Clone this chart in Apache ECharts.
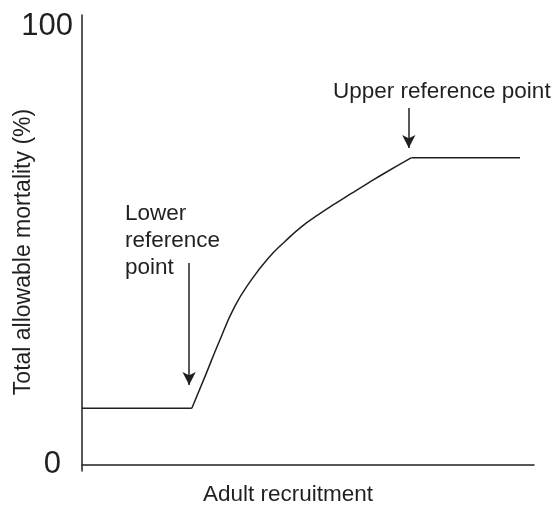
<!DOCTYPE html>
<html>
<head>
<meta charset="utf-8">
<script src="https://cdn.jsdelivr.net/npm/echarts@6/dist/echarts.min.js"></script>
<style>
html, body { margin: 0; padding: 0; background: #fff; }
#chart { width: 552px; height: 506px; }
</style>
</head>
<body>
<div id="chart"></div>
<script>
// harvest control rule: flat, rising curve, flat
const recruitment = [0, 24.3, 27.2, 30.2, 33.8, 37.5, 41.2, 44.9, 48.6, 52.3, 56.0, 59.7, 63.3, 67.0, 72.9, 96.9]
const mortality = [12.9, 12.9, 20.1, 27.7, 36.1, 42.2, 47.1, 50.9, 54.3, 57.0, 59.5, 61.9, 64.2, 66.5, 70.0, 70.0]
const yTickLabels = [0, 100]
// arrows: [x, from y, to y]
const lowerArrow = [23.7, 46.0, 18.2]
const upperArrow = [72.3, 81.3, 72.2]

const ink = '#231f20'
const font = 'Liberation Sans, Arial, Helvetica, sans-serif'
const last = recruitment.length - 1

let chart = echarts.init(document.getElementById('chart'))

const pts = (from, to) => recruitment.slice(from, to + 1).map((x, i) => [x, mortality[from + i]])

const arrowLine = a => [
  { coord: [a[0], a[1]], symbol: 'none' },
  { coord: [a[0], a[2]], symbol: 'arrow' }
]

const lineSeries = (data, smooth) => ({
  type: 'line',
  data: data,
  smooth: smooth,
  showSymbol: false,
  lineStyle: { color: ink, width: 1.5 }
})

const option = {
  animation: false,
  grid: { left: 82, right: 18, top: 15, bottom: 35 },
  xAxis: {
    type: 'value',
    min: 0,
    max: 100,
    axisLine: { show: true, lineStyle: { color: ink, width: 1.5 } },
    axisTick: { show: false },
    axisLabel: { show: false },
    splitLine: { show: false }
  },
  yAxis: {
    type: 'value',
    min: -1.4,
    max: 102.5,
    axisLine: { show: true, lineStyle: { color: ink, width: 1.5 } },
    axisTick: { show: false },
    splitLine: { show: false },
    axisLabel: {
      customValues: yTickLabels,
      margin: 9,
      color: ink,
      fontFamily: font,
      fontSize: 31,
      formatter: v => v === 0 ? '{z|0}' : String(v),
      rich: {
        z: { fontSize: 31, fontFamily: font, color: ink, padding: [0, 12, 0, 0] }
      }
    }
  },
  series: [
    lineSeries(pts(0, 1), false),
    lineSeries(pts(1, last - 1), 0.5),
    Object.assign(lineSeries(pts(last - 1, last), false), {
      markLine: {
        silent: true,
        symbolSize: [10, 13],
        label: { show: false },
        lineStyle: { color: ink, width: 1.5, type: 'solid' },
        data: [arrowLine(lowerArrow), arrowLine(upperArrow)]
      }
    })
  ],
  graphic: [
    {
      type: 'text', left: 333, top: 80,
      style: { text: 'Upper reference point', fill: ink, font: '22.5px ' + font }
    },
    {
      type: 'text', left: 125, top: 200,
      style: { text: 'Lower\nreference\npoint', fill: ink, font: '22.5px ' + font, lineHeight: 27 }
    },
    {
      type: 'text', left: 203, top: 483,
      style: { text: 'Adult recruitment', fill: ink, font: '22.5px ' + font }
    },
    {
      type: 'text', x: 24, y: 252, rotation: Math.PI / 2,
      style: { text: 'Total allowable mortality (%)', fill: ink, font: '23px ' + font, align: 'center', verticalAlign: 'middle' }
    }
  ]
}

chart.setOption(option)
</script>
</body>
</html>
